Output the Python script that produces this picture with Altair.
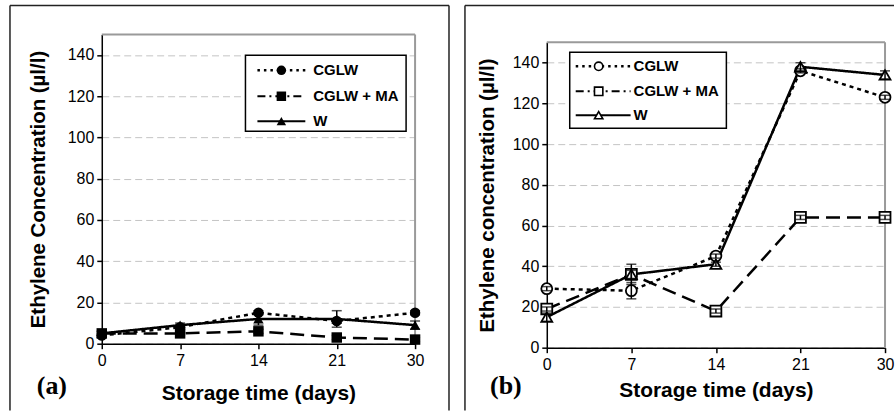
import altair as alt
import pandas as pd

SANS = "Liberation Sans"
SERIF = "Liberation Serif"

days = ["0", "7", "14", "21", "30"]
series = ["CGLW", "CGLW + MA", "W"]

# Panel (a)
a_cglw = [4, 8, 15, 11, 15]
a_cglw_err = [1, 1, 1, 1, 1]
a_ma = [5, 5, 6, 3, 2]
a_ma_err = [1, 1, 1, 1, 1]
a_w = [5, 9, 12, 12, 9]
a_w_err = [1, 1, 3, 4, 2]

# Panel (b)
b_cglw = [29, 28, 45, 136, 123]
b_cglw_err = [1, 4, 1, 1, 1]
b_ma = [19, 36, 18, 64, 64]
b_ma_err = [1, 2, 1, 1, 1]
b_w = [15, 36, 41, 138, 134]
b_w_err = [2, 5, 1, 2, 2]


def long_df(vals, errs):
    rows = []
    for s, v, e in zip(series, vals, errs):
        for d, vv, ee in zip(days, v, e):
            rows.append({"day": d, "series": s, "value": vv, "lo": vv - ee, "hi": vv + ee})
    return pd.DataFrame(rows)


df_a = long_df([a_cglw, a_ma, a_w], [a_cglw_err, a_ma_err, a_w_err])
df_b = long_df([b_cglw, b_ma, b_w], [b_cglw_err, b_ma_err, b_w_err])

ONE = pd.DataFrame({"k": [0]})


def panel(df, width, height, ptop, filled, ytitle, label, lab_xy, frame, ytx, xty,
          box, rows_y, line_x, mark_x, text_x, msize, lsize):
    xscale = alt.Scale(type="point", domain=days, padding=0)
    yscale = alt.Scale(domain=[0, 150], nice=False, range=[height, ptop])
    xaxis = alt.Axis(title="Storage time (days)", labelAngle=0, labelFont=SANS,
                     labelFontSize=16, labelColor="black", labelPadding=4,
                     tickSize=5, tickColor="black", tickWidth=1.5,
                     domainColor="black", domainWidth=1.5, grid=False,
                     titleFont=SANS, titleFontSize=21, titleFontWeight="bold",
                     titleColor="black", titleY=xty, titleBaseline="middle")
    yaxis = alt.Axis(title=ytitle, values=list(range(0, 141, 20)), labelFont=SANS,
                     labelFontSize=16, labelColor="black", labelPadding=3,
                     tickSize=5, tickColor="black", tickWidth=1.5,
                     domainColor="black", domainWidth=1.5, grid=True,
                     gridColor="#c4c4c4", gridDash=[7, 4], gridWidth=1,
                     titleFont=SANS, titleFontSize=20.5, titleFontWeight="bold",
                     titleColor="black", titleX=ytx, titleY=(height + ptop) / 2,
                     titleBaseline="middle", titleAlign="center")
    X = alt.X("day:O", sort=days, scale=xscale, axis=xaxis)
    base = alt.Chart(df)
    fr = alt.Chart(ONE)

    layers = []
    # plot-area border (top and right edges, grey)
    layers.append(fr.mark_rule(color="#9a9a9a", strokeWidth=2).encode(
        x=alt.value(0), x2=alt.value(width), y=alt.value(ptop)))
    layers.append(fr.mark_rule(color="#9a9a9a", strokeWidth=2).encode(
        x=alt.value(width), y=alt.value(ptop), y2=alt.value(height)))

    lines = base.mark_line(color="black").encode(
        x=X,
        y=alt.Y("value:Q", scale=yscale, axis=yaxis),
        strokeDash=alt.StrokeDash("series:N", scale=alt.Scale(domain=series, range=[[4, 4], [14, 7], [1, 0]]), legend=None),
        strokeWidth=alt.StrokeWidth("series:N", scale=alt.Scale(domain=series, range=[2.5, 2.5, 2]), legend=None),
    )
    if filled:
        pts = base.mark_point(filled=True, color="black", opacity=1, size=msize)
    else:
        pts = base.mark_point(filled=True, fill="white", stroke="black", strokeWidth=1.8,
                              opacity=1, fillOpacity=1, size=msize)
    points = pts.encode(
        x=X,
        y=alt.Y("value:Q", scale=yscale, axis=yaxis),
        shape=alt.Shape("series:N", scale=alt.Scale(domain=series, range=["circle", "square", "triangle-up"]), legend=None),
    )
    ebar = base.mark_rule(color="black", strokeWidth=1.5).encode(
        x=X, y=alt.Y("lo:Q", scale=yscale, axis=yaxis), y2="hi:Q")
    cap_lo = base.mark_tick(color="black", thickness=1.5, size=10, orient="horizontal").encode(
        x=X, y=alt.Y("lo:Q", scale=yscale, axis=yaxis))
    cap_hi = base.mark_tick(color="black", thickness=1.5, size=10, orient="horizontal").encode(
        x=X, y=alt.Y("hi:Q", scale=yscale, axis=yaxis))

    layers += [lines, points, ebar, cap_lo, cap_hi]

    # outer frame (left, top, right edges)
    fx1, fy1, fx2, fy2, right_edge = frame
    layers.append(fr.mark_rule(color="#222", strokeWidth=1.5).encode(
        x=alt.value(fx1), y=alt.value(fy1), y2=alt.value(fy2)))
    layers.append(fr.mark_rule(color="#222", strokeWidth=1.5).encode(
        x=alt.value(fx1), x2=alt.value(fx2), y=alt.value(fy1)))
    if right_edge:
        layers.append(fr.mark_rule(color="#222", strokeWidth=1.5).encode(
            x=alt.value(fx2), y=alt.value(fy1), y2=alt.value(fy2)))

    # legend box
    bx1, by1, bx2, by2 = box
    layers.append(fr.mark_rect(fill="white", stroke="black", strokeWidth=1.5).encode(
        x=alt.value(bx1), x2=alt.value(bx2), y=alt.value(by1), y2=alt.value(by2)))
    leg_dash = [[2.5, 4], [8, 4, 2, 4], [1, 0]]
    leg_w = [2.5, 2, 2]
    shapes = ["circle", "square", "triangle-up"]
    for s, ry, dash, w, shp in zip(series, rows_y, leg_dash, leg_w, shapes):
        layers.append(fr.mark_rule(color="black", strokeWidth=w, strokeDash=dash).encode(
            x=alt.value(line_x[0]), x2=alt.value(line_x[1]), y=alt.value(ry)))
        if filled:
            m = fr.mark_point(shape=shp, filled=True, color="black", opacity=1, size=lsize)
        else:
            m = fr.mark_point(shape=shp, filled=True, fill="white", stroke="black",
                              strokeWidth=1.6, opacity=1, size=lsize)
        layers.append(m.encode(x=alt.value(mark_x), y=alt.value(ry)))
        layers.append(fr.mark_text(align="left", baseline="middle", font=SANS, fontSize=15,
                                   fontWeight="bold", color="black").encode(
            x=alt.value(text_x), y=alt.value(ry), text=alt.value(s)))

    # panel label
    layers.append(fr.mark_text(align="center", baseline="middle", font=SERIF, fontSize=26,
                               fontWeight="bold", color="black").encode(
        x=alt.value(lab_xy[0]), y=alt.value(lab_xy[1]), text=alt.value(label)))

    return alt.layer(*layers).properties(width=width, height=height)


# left panel: plot origin (101, 34); right panel: origin (546, 34), plot top at +8
left = panel(df_a, 314, 310, 0, True, "Ethylene Concentration (µl/l)", "(a)", (-50, 352),
             (-92, -29, 348, 377, True), -63, 50,
             (144, 21, 305, 97), [36, 62, 87], (156, 204), 180, 212, 110, 90)

right = panel(df_b, 339, 314, 8, False, "Ethylene concentration (µl/l)", "(b)", (-41, 352),
              (-82, -29, 348, 377, False), -59, 43,
              (23, 18, 180, 94), [32, 57, 81], (29, 84), 52, 87, 120, 70)

chart = alt.hconcat(left, right, spacing=14).properties(
    padding={"left": 9, "top": 4, "right": 0, "bottom": 0},
    background="white",
).configure_view(stroke=None)

chart.save("out.html", embed_options={"renderer": "svg", "actions": False})
